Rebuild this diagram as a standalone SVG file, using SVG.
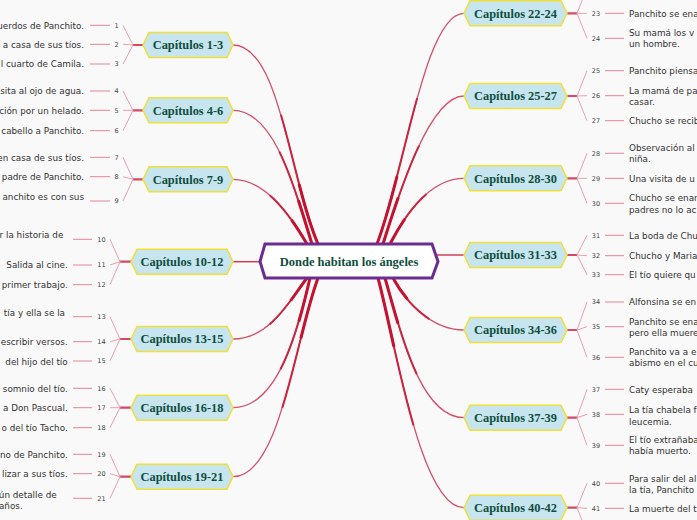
<svg xmlns="http://www.w3.org/2000/svg" xmlns:xlink="http://www.w3.org/1999/xlink" width="697" height="520" viewBox="0 0 697 520">
<style>
.ch{fill:#c6e5ef;stroke:#f2e03a;stroke-width:1.5}
.root{fill:#ffffff;stroke:#6b2d90;stroke-width:3}
.cht{font-family:"Liberation Serif",serif;font-weight:bold;font-size:12.4px;fill:#104e3d;text-anchor:middle}
.rt{font-family:"Liberation Serif",serif;font-weight:bold;font-size:12.5px;fill:#104e3d;text-anchor:middle}
.lt{font-family:"DejaVu Sans",sans-serif;font-size:8.8px;fill:#333333}
.le{text-anchor:end}
.num{font-family:"DejaVu Sans",sans-serif;font-size:6.5px;fill:#444444;text-anchor:middle}
.b1{fill:none;stroke:#d4506a;stroke-width:1.3}
.b2{fill:none;stroke:#c92641;stroke-width:2;stroke-dasharray:0 40 60}
.b3{fill:none;stroke:#c41230;stroke-width:3;stroke-dasharray:0 72 28}
.st{fill:none;stroke:#d03c5a;stroke-width:1.5}
.stub{fill:none;stroke:#d44a66;stroke-width:2.2}
.fan{fill:none;stroke:#eba0ae;stroke-width:1}
.ll{fill:none;stroke:#e68395;stroke-width:1}
</style>
<defs>
<path id="c1" pathLength="100" d="M233,45 C280,45 290,180 318,244"/>
<path id="c2" pathLength="100" d="M233,110.3 C275,110.3 295,190 312,244"/>
<path id="c3" pathLength="100" d="M233,179.3 C265,179.3 290,215 307,244"/>
<path id="c5" pathLength="100" d="M233,339 C270,339 290,300 307,278"/>
<path id="c6" pathLength="100" d="M233,407.7 C278,407.7 298,330 310,278"/>
<path id="c7" pathLength="100" d="M233,476.7 C280,476.7 295,340 318,278"/>
<path id="r1" pathLength="100" d="M464,13.3 C425,13.3 405,170 377,244"/>
<path id="r2" pathLength="100" d="M464,96 C430,96 400,190 383,244"/>
<path id="r3" pathLength="100" d="M464,178.3 C430,178.3 405,215 390,244"/>
<path id="r5" pathLength="100" d="M464,330 C430,330 405,300 393,278"/>
<path id="r6" pathLength="100" d="M464,417.7 C420,417.7 400,330 385,278"/>
<path id="r7" pathLength="100" d="M464,507.7 C420,507.7 395,340 378,278"/>
</defs>
<rect x="0" y="0" width="697" height="520" fill="#f9f9f9"/>
<g id="connectors">
<use href="#c1" class="b1"/><use href="#c1" class="b2"/><use href="#c1" class="b3"/>
<use href="#c2" class="b1"/><use href="#c2" class="b2"/><use href="#c2" class="b3"/>
<use href="#c3" class="b1"/><use href="#c3" class="b2"/><use href="#c3" class="b3"/>
<use href="#c5" class="b1"/><use href="#c5" class="b2"/><use href="#c5" class="b3"/>
<use href="#c6" class="b1"/><use href="#c6" class="b2"/><use href="#c6" class="b3"/>
<use href="#c7" class="b1"/><use href="#c7" class="b2"/><use href="#c7" class="b3"/>
<use href="#r1" class="b1"/><use href="#r1" class="b2"/><use href="#r1" class="b3"/>
<use href="#r2" class="b1"/><use href="#r2" class="b2"/><use href="#r2" class="b3"/>
<use href="#r3" class="b1"/><use href="#r3" class="b2"/><use href="#r3" class="b3"/>
<use href="#r5" class="b1"/><use href="#r5" class="b2"/><use href="#r5" class="b3"/>
<use href="#r6" class="b1"/><use href="#r6" class="b2"/><use href="#r6" class="b3"/>
<use href="#r7" class="b1"/><use href="#r7" class="b2"/><use href="#r7" class="b3"/>
<path class="st" d="M233,261.7 L262,261.7"/>
<path class="st" d="M464,255 L434,255"/>
<!-- stubs -->
<path class="stub" d="M133,45 H143 M133,110.3 H143 M133,179.3 H143 M120,261.7 H131 M120,339 H131 M120,407.7 H131 M120,476.7 H131"/>
<path class="stub" d="M567,13.3 H577 M567,96 H577 M567,178.3 H577 M567,255 H577 M567,330 H577 M567,417.7 H577 M567,507.7 H577"/>
<!-- fans left -->
<path class="fan" d="M133,45 L123,25.3 M133,45 L123,44.3 M133,45 L123,64
M133,110.3 L123,91 M133,110.3 L123,110.3 M133,110.3 L123,130.7
M133,179.3 L123,157.3 M133,179.3 L123,176.7 M133,179.3 L123,201
M120,261.7 L110,239.3 M120,261.7 L110,265 M120,261.7 L110,284.7
M120,339 L110,316.7 M120,339 L110,341.7 M120,339 L110,361
M120,407.7 L110,388.3 M120,407.7 L110,407.7 M120,407.7 L110,427.7
M120,476.7 L110,454.3 M120,476.7 L110,473.7 M120,476.7 L110,498.3"/>
<!-- fans right -->
<path class="fan" d="M577,13.3 L587,-11.7 M577,13.3 L587,13.3 M577,13.3 L587,38.3
M577,96 L587,70.7 M577,96 L587,95.7 M577,96 L587,120.7
M577,178.3 L587,153.3 M577,178.3 L587,178.3 M577,178.3 L587,203.3
M577,255 L587,235.3 M577,255 L587,255.7 M577,255 L587,274.7
M577,330 L587,302 M577,330 L587,326.7 M577,330 L587,357.3
M577,417.7 L587,389.3 M577,417.7 L587,414.3 M577,417.7 L587,445.3
M577,507.7 L587,483.3 M577,507.7 L587,508.3 M577,507.7 L587,533"/>
<!-- leaf lines left -->
<path class="ll" d="M90,25.3 H110 M90,44.3 H110 M90,64 H110 M90,91 H110 M90,110.3 H110 M90,130.7 H110 M90,157.3 H110 M90,176.7 H110 M90,201 H110
M73,239.3 H92 M73,265 H92 M73,284.7 H92 M73,316.7 H92 M73,341.7 H92 M73,361 H92 M73,388.3 H92 M73,407.7 H92 M73,427.7 H92 M73,454.3 H92 M73,473.7 H92 M73,498.3 H92"/>
<!-- leaf lines right -->
<path class="ll" d="M605,13.3 H624 M605,38.3 H624 M605,70.7 H624 M605,95.7 H624 M605,120.7 H624 M605,153.3 H624 M605,178.3 H624 M605,203.3 H624 M605,235.3 H624 M605,255.7 H624 M605,274.7 H624 M605,302 H624 M605,326.7 H624 M605,357.3 H624 M605,389.3 H624 M605,414.3 H624 M605,445.3 H624 M605,483.3 H624 M605,508.3 H624"/>
</g>
<g id="root">
<path class="root" d="M260,261.5 L265,244 H432 L438,261.5 L432,278 H265 Z"/>
<text class="rt" x="349" y="265.5">Donde habitan los ángeles</text>
</g>
<g id="cap1-3"><path class="ch" d="M143,45 l6,-12.5 H227 l6,12.5 l-6,12.5 H149 Z"/><text class="cht" x="188" y="49.3">Capítulos 1-3</text></g>
<g id="cap4-6"><path class="ch" d="M143,110.3 l6,-12.5 H227 l6,12.5 l-6,12.5 H149 Z"/><text class="cht" x="188" y="114.6">Capítulos 4-6</text></g>
<g id="cap7-9"><path class="ch" d="M143,179.3 l6,-12.5 H227 l6,12.5 l-6,12.5 H149 Z"/><text class="cht" x="188" y="183.6">Capítulos 7-9</text></g>
<g id="cap10-12"><path class="ch" d="M131,261.7 l6,-12.5 H227 l6,12.5 l-6,12.5 H137 Z"/><text class="cht" x="182" y="266">Capítulos 10-12</text></g>
<g id="cap13-15"><path class="ch" d="M131,339 l6,-12.5 H227 l6,12.5 l-6,12.5 H137 Z"/><text class="cht" x="182" y="343.3">Capítulos 13-15</text></g>
<g id="cap16-18"><path class="ch" d="M131,407.7 l6,-12.5 H227 l6,12.5 l-6,12.5 H137 Z"/><text class="cht" x="182" y="412">Capítulos 16-18</text></g>
<g id="cap19-21"><path class="ch" d="M131,476.7 l6,-12.5 H227 l6,12.5 l-6,12.5 H137 Z"/><text class="cht" x="182" y="481">Capítulos 19-21</text></g>
<g id="cap22-24"><path class="ch" d="M464,13.3 l6,-12.5 H561 l6,12.5 l-6,12.5 H470 Z"/><text class="cht" x="515.5" y="17.6">Capítulos 22-24</text></g>
<g id="cap25-27"><path class="ch" d="M464,96 l6,-12.5 H561 l6,12.5 l-6,12.5 H470 Z"/><text class="cht" x="515.5" y="100.3">Capítulos 25-27</text></g>
<g id="cap28-30"><path class="ch" d="M464,178.3 l6,-12.5 H561 l6,12.5 l-6,12.5 H470 Z"/><text class="cht" x="515.5" y="182.6">Capítulos 28-30</text></g>
<g id="cap31-33"><path class="ch" d="M464,255 l6,-12.5 H561 l6,12.5 l-6,12.5 H470 Z"/><text class="cht" x="515.5" y="259.3">Capítulos 31-33</text></g>
<g id="cap34-36"><path class="ch" d="M464,330 l6,-12.5 H561 l6,12.5 l-6,12.5 H470 Z"/><text class="cht" x="515.5" y="334.3">Capítulos 34-36</text></g>
<g id="cap37-39"><path class="ch" d="M464,417.7 l6,-12.5 H561 l6,12.5 l-6,12.5 H470 Z"/><text class="cht" x="515.5" y="422">Capítulos 37-39</text></g>
<g id="cap40-42"><path class="ch" d="M464,507.7 l6,-12.5 H561 l6,12.5 l-6,12.5 H470 Z"/><text class="cht" x="515.5" y="512">Capítulos 40-42</text></g>
<g id="leaf1"><text class="num" x="116.5" y="27.6">1</text><text class="lt le" x="84" y="28.5">uerdos de Panchito.</text></g>
<g id="leaf2"><text class="num" x="116.5" y="46.6">2</text><text class="lt le" x="84" y="47.5">a casa de sus tíos.</text></g>
<g id="leaf3"><text class="num" x="116.5" y="66.3">3</text><text class="lt le" x="84" y="67.2">l cuarto de Camila.</text></g>
<g id="leaf4"><text class="num" x="116.5" y="93.3">4</text><text class="lt le" x="84" y="94.2">sita al ojo de agua.</text></g>
<g id="leaf5"><text class="num" x="116.5" y="112.6">5</text><text class="lt le" x="84" y="113.5">ción por un helado.</text></g>
<g id="leaf6"><text class="num" x="116.5" y="133">6</text><text class="lt le" x="84" y="133.9">cabello a Panchito.</text></g>
<g id="leaf7"><text class="num" x="116.5" y="159.6">7</text><text class="lt le" x="84" y="160.5">en casa de sus tíos.</text></g>
<g id="leaf8"><text class="num" x="116.5" y="179">8</text><text class="lt le" x="84" y="179.9">padre de Panchito.</text></g>
<g id="leaf9"><text class="num" x="116.5" y="203.3">9</text><text class="lt le" x="84" y="199.9">anchito es con sus</text></g>
<g id="leaf10"><text class="num" x="101.5" y="241.6">10</text><text class="lt le" x="63.3" y="238.2">r la historia de</text></g>
<g id="leaf11"><text class="num" x="101.5" y="267.3">11</text><text class="lt le" x="67.7" y="268.2">Salida al cine.</text></g>
<g id="leaf12"><text class="num" x="101.5" y="287">12</text><text class="lt le" x="67.7" y="287.9">primer trabajo.</text></g>
<g id="leaf13"><text class="num" x="101.5" y="319">13</text><text class="lt le" x="65" y="315.5">tía y ella se la</text></g>
<g id="leaf14"><text class="num" x="101.5" y="344">14</text><text class="lt le" x="67.7" y="344.9">escribir versos.</text></g>
<g id="leaf15"><text class="num" x="101.5" y="363.3">15</text><text class="lt le" x="67.7" y="364.9">del hijo del tío</text></g>
<g id="leaf16"><text class="num" x="101.5" y="390.6">16</text><text class="lt le" x="67.7" y="391.5">somnio del tío.</text></g>
<g id="leaf17"><text class="num" x="101.5" y="410">17</text><text class="lt le" x="67.7" y="410.9">a Don Pascual.</text></g>
<g id="leaf18"><text class="num" x="101.5" y="430">18</text><text class="lt le" x="67.7" y="430.9">o del tío Tacho.</text></g>
<g id="leaf19"><text class="num" x="101.5" y="456.6">19</text><text class="lt le" x="67.7" y="457.5">no de Panchito.</text></g>
<g id="leaf20"><text class="num" x="101.5" y="476">20</text><text class="lt le" x="67.7" y="476.9">lizar a sus tíos.</text></g>
<g id="leaf21"><text class="num" x="101.5" y="500.6">21</text><text class="lt le" x="56.7" y="497.5">ún detalle de</text><text class="lt le" x="22.7" y="508.5">años.</text></g>
<g id="leaf23"><text class="num" x="596" y="15.6">23</text><text class="lt" x="629" y="16.5">Panchito se ena</text></g>
<g id="leaf24"><text class="num" x="596" y="40.6">24</text><text class="lt" x="629" y="36.2">Su mamá los v</text><text class="lt" x="629" y="46.9">un hombre.</text></g>
<g id="leaf25"><text class="num" x="596" y="73">25</text><text class="lt" x="629" y="73.9">Panchito piensa</text></g>
<g id="leaf26"><text class="num" x="596" y="98">26</text><text class="lt" x="629" y="94.2">La mamá de pa</text><text class="lt" x="629" y="104.9">casar.</text></g>
<g id="leaf27"><text class="num" x="596" y="123">27</text><text class="lt" x="629" y="123.9">Chucho se recib</text></g>
<g id="leaf28"><text class="num" x="596" y="155.6">28</text><text class="lt" x="629" y="150.9">Observación al</text><text class="lt" x="629" y="162.2">niña.</text></g>
<g id="leaf29"><text class="num" x="596" y="180.6">29</text><text class="lt" x="629" y="181.5">Una visita de u</text></g>
<g id="leaf30"><text class="num" x="596" y="205.6">30</text><text class="lt" x="629" y="201.2">Chucho se enar</text><text class="lt" x="629" y="212.5">padres no lo ac</text></g>
<g id="leaf31"><text class="num" x="596" y="237.6">31</text><text class="lt" x="629" y="238.5">La boda de Chu</text></g>
<g id="leaf32"><text class="num" x="596" y="258">32</text><text class="lt" x="629" y="258.9">Chucho y Maria</text></g>
<g id="leaf33"><text class="num" x="596" y="277">33</text><text class="lt" x="629" y="277.9">El tío quiere qu</text></g>
<g id="leaf34"><text class="num" x="596" y="304.3">34</text><text class="lt" x="629" y="305.2">Alfonsina se en</text></g>
<g id="leaf35"><text class="num" x="596" y="329">35</text><text class="lt" x="629" y="325.2">Panchito se ena</text><text class="lt" x="629" y="336.2">pero ella muere</text></g>
<g id="leaf36"><text class="num" x="596" y="359.6">36</text><text class="lt" x="629" y="354.9">Panchito va a e</text><text class="lt" x="629" y="366.2">abismo en el cu</text></g>
<g id="leaf37"><text class="num" x="596" y="391.6">37</text><text class="lt" x="629" y="392.5">Caty esperaba</text></g>
<g id="leaf38"><text class="num" x="596" y="416.6">38</text><text class="lt" x="629" y="413.2">La tía chabela f</text><text class="lt" x="629" y="424.5">leucemia.</text></g>
<g id="leaf39"><text class="num" x="596" y="447.6">39</text><text class="lt" x="629" y="443.2">El tío extrañaba</text><text class="lt" x="629" y="454.2">había muerto.</text></g>
<g id="leaf40"><text class="num" x="596" y="485.6">40</text><text class="lt" x="629" y="481.9">Para salir del al</text><text class="lt" x="629" y="492.5">la tía, Panchito</text></g>
<g id="leaf41"><text class="num" x="596" y="510.6">41</text><text class="lt" x="629" y="511.5">La muerte del t</text></g>
</svg>
